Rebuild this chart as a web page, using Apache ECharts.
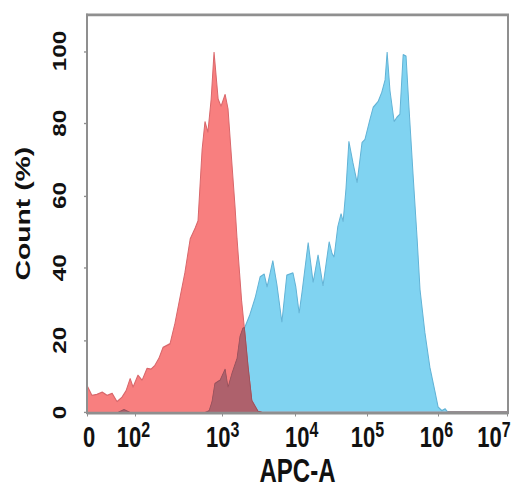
<!DOCTYPE html>
<html>
<head>
<meta charset="utf-8">
<script src="https://cdn.jsdelivr.net/npm/echarts@6/dist/echarts.min.js"></script>
<style>
html,body{margin:0;padding:0;background:#fff;overflow:hidden;width:515px;height:490px}
#c{width:515px;height:363px;transform:scaleY(1.35);transform-origin:0 0}
</style>
</head>
<body>
<div id="c"></div>
<script>
// Flow cytometry histogram, x in display channels (0..1024, logicle-like), y in % of max count
const redChannels = [0,12,24,37,49,61,73,85,95,105,112,124,134,146,156,165,175,185,202,214,226,238,251,263,270,280,287,294,302,309,319,326,336,343,353,360,365,376,384,392,401,416,426,1024];
const redCounts   = [7.5,4.7,5,5.6,4.7,5.3,3,4.2,6,9.4,7,10.3,8.9,12.2,12,13,15,18,19,24.7,31.7,38.6,48,51,53,72.8,80.5,77.5,86.7,99.7,86.7,84.7,88,84,68,57,48,31,22,12.5,3.3,0.3,0,0];

const blueChannels = [0,75,90,105,287,297,304,311,324,336,343,353,365,372,379,384,396,409,421,431,438,452,462,474,486,501,508,516,523,538,550,562,574,589,596,601,610,618,623,630,637,647,657,669,676,688,696,708,717,725,730,737,747,754,761,769,776,783,793,803,810,822,834,846,854,863,871,878,1024];
const blueCounts   = [0,0,0.8,0,0,0.5,3,8,9,12,7,11,15,21,23.3,23.6,27,31.7,37.5,38.3,34.7,42,35.3,25,38,38.6,34.7,27.5,33.3,47,36,43.6,35,47.2,44,43,51.4,55,52.8,62,75,69,63.6,74.7,75.5,81,84.4,86,88.6,92,99.7,89,80.5,81.7,82.5,99,98.6,84.7,66,48,34,22,12.5,6,1.5,0.5,1,0,0];

const xTickChannels   = [0,117,328,506,681,854,1021];
const xLabelChannels  = [5,113,330,522,682,850,990];
const xLabelExponents = [null,2,3,4,5,6,7];
const yTickValues = [0,20,40,60,80,100];

const FONT = "'Liberation Sans', Arial, Helvetica, sans-serif";

function interp(xs, ys, x) {
  if (x <= xs[0]) return ys[0];
  for (let i = 1; i < xs.length; i++) {
    if (x <= xs[i]) {
      const t = (x - xs[i-1]) / (xs[i] - xs[i-1]);
      return ys[i-1] + t * (ys[i] - ys[i-1]);
    }
  }
  return ys[ys.length - 1];
}

// overlap region = pointwise minimum of the two histograms
function overlapData() {
  const lo = Math.max(redChannels[0], blueChannels[0]);
  const hi = Math.min(redChannels[redChannels.length-1], blueChannels[blueChannels.length-1]);
  let xs = Array.from(new Set(redChannels.concat(blueChannels))).filter(x => x >= lo && x <= hi).sort((a,b)=>a-b);
  const extra = [];
  for (let i = 1; i < xs.length; i++) {
    const a = xs[i-1], b = xs[i];
    const da = interp(redChannels, redCounts, a) - interp(blueChannels, blueCounts, a);
    const db = interp(redChannels, redCounts, b) - interp(blueChannels, blueCounts, b);
    if (da * db < 0) extra.push(a + (b - a) * da / (da - db));
  }
  xs = xs.concat(extra).sort((a,b)=>a-b);
  const pts = xs.map(x => [x, Math.min(interp(redChannels, redCounts, x), interp(blueChannels, blueCounts, x))]);
  let first = pts.findIndex(p => p[1] > 0.05);
  let last = pts.length - 1;
  while (last > 0 && pts[last][1] <= 0.05) last--;
  return pts.slice(Math.max(0, first - 1), last + 2);
}

const chart = echarts.init(document.getElementById('c'), null, {renderer: 'svg'});
chart.setOption({
  animation: false,
  backgroundColor: '#ffffff',
  grid: {left: 87, right: 7, top: 11, bottom: 57.5, show: true, borderColor: '#8f8f8f', borderWidth: 2,
         backgroundColor: 'transparent', containLabel: false, outerBoundsMode: 'none'},
  xAxis: {
    type: 'value', min: 0, max: 1024, z: 10,
    name: 'APC-A', nameLocation: 'middle', nameGap: 31, nameMoveOverlap: false,
    nameTextStyle: {fontFamily: FONT, fontWeight: 'bold', fontSize: 24, lineHeight: 24, color: '#111'},
    axisLine: {show: true, lineStyle: {color: '#8f8f8f', width: 2}},
    axisTick: {show: true, customValues: xTickChannels, length: 3, lineStyle: {color: '#8f8f8f'}},
    splitLine: {show: false},
    axisLabel: {
      customValues: xLabelChannels, margin: 3, color: '#111',
      formatter: function (v) {
        const i = xLabelChannels.indexOf(v);
        if (i < 0) return '';
        const e = xLabelExponents[i];
        return e === null ? '{b|0}' : '{b|10}{s|' + e + '}';
      },
      rich: {
        b: {fontFamily: FONT, fontWeight: 'bold', fontSize: 22, lineHeight: 30, color: '#111'},
        s: {fontFamily: FONT, fontWeight: 'bold', fontSize: 16, lineHeight: 16, padding: [0,0,11,0], color: '#111'}
      }
    }
  },
  yAxis: {
    type: 'value', min: 0, max: 110, z: 10,
    name: 'Count (%)', nameLocation: 'middle', nameGap: 54, nameMoveOverlap: false,
    nameTextStyle: {fontFamily: FONT, fontWeight: 'bold', fontSize: 21, color: '#111'},
    axisLine: {show: true, lineStyle: {color: '#8f8f8f', width: 2}},
    axisTick: {show: true, customValues: yTickValues, length: 3, lineStyle: {color: '#8f8f8f'}},
    splitLine: {show: false},
    axisLabel: {customValues: yTickValues, rotate: 90, margin: 18, fontFamily: FONT, fontWeight: 'bold', fontSize: 18, color: '#111'}
  },
  series: [
    {type: 'line', name: 'blue', data: blueChannels.map((x,i)=>[x, blueCounts[i]]), symbol: 'none', silent: true, z: 2,
     lineStyle: {color: '#62b3d6', width: 1}, areaStyle: {color: '#80d3f1', opacity: 1}},
    {type: 'line', name: 'red', data: redChannels.map((x,i)=>[x, redCounts[i]]), symbol: 'none', silent: true, z: 3,
     lineStyle: {color: '#d9676b', width: 1}, areaStyle: {color: '#f87f7f', opacity: 1}},
    {type: 'line', name: 'overlap', data: overlapData(), symbol: 'none', silent: true, z: 4,
     lineStyle: {color: '#94505b', width: 0.8}, areaStyle: {color: '#ae616c', opacity: 1}}
  ]
});
</script>
</body>
</html>
